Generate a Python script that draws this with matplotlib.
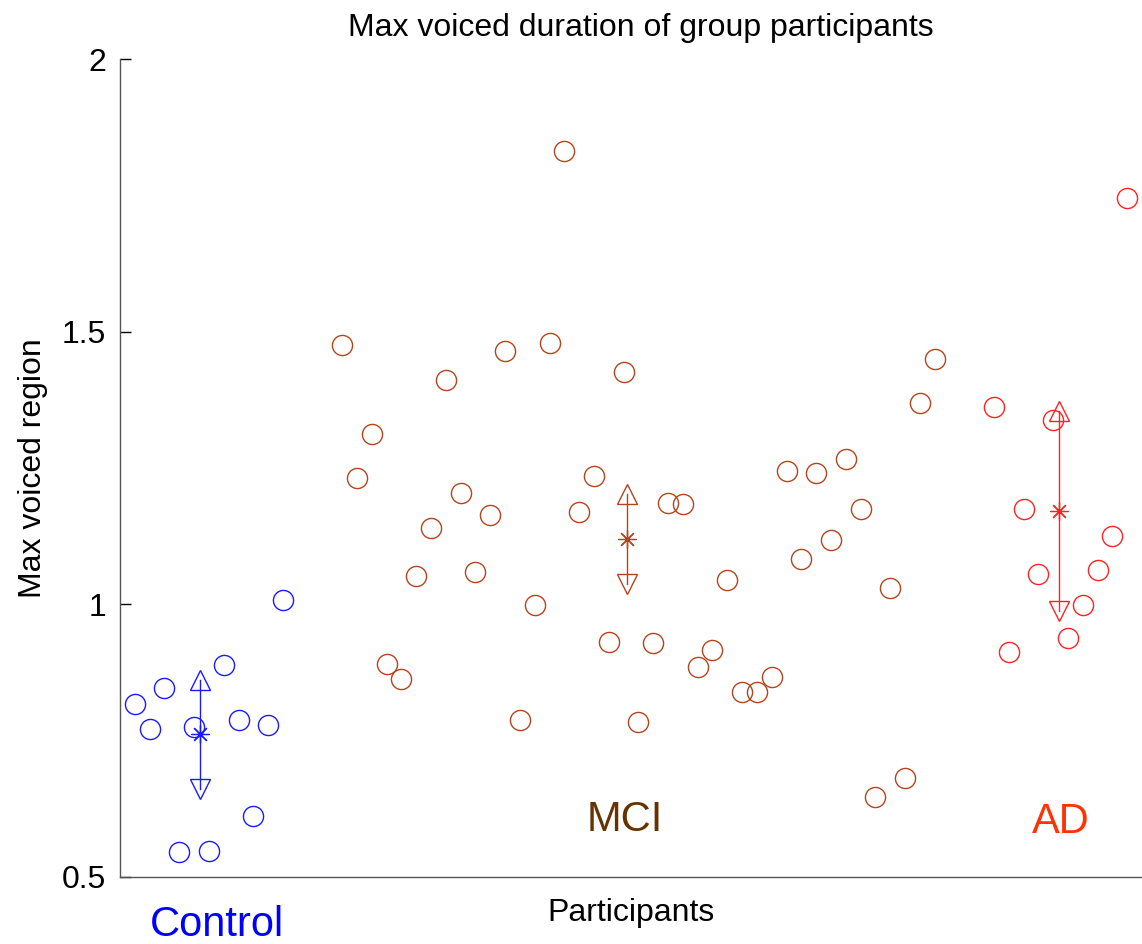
import numpy as np
import matplotlib
matplotlib.use('Agg')
import matplotlib.pyplot as plt

plt.rcParams['font.family'] = ['Liberation Sans', 'DejaVu Sans']

# participant index -> max voiced region, per group
control_idx = list(range(1, 12))
control_vals = [0.817, 0.772, 0.847, 0.546, 0.775, 0.548, 0.889, 0.788, 0.612, 0.779, 1.008]

mci_idx = list(range(15, 56))
mci_vals = [1.477, 1.232, 1.313, 0.890, 0.863, 1.052, 1.140, 1.412, 1.204, 1.059,
            1.165, 1.466, 0.788, 0.999, 1.480, 1.832, 1.170, 1.235, 0.931, 1.427,
            0.784, 0.930, 1.187, 1.184, 0.886, 0.917, 1.044, 0.839, 0.839, 0.867,
            1.245, 1.083, 1.242, 1.118, 1.267, 1.176, 0.647, 1.030, 0.682, 1.370,
            1.451]

ad_idx = list(range(59, 69))
ad_vals = [1.363, 0.913, 1.176, 1.056, 1.338, 0.938, 0.999, 1.063, 1.125, 1.745]

group_names = ['Control', 'MCI', 'AD']
ci_half = [0.100, 0.083, 0.184]      # 95% interval half-widths
bar_x = [5.4, 34.25, 63.42]
label_x = [6.55, 34.1, 63.5]
label_y = [0.412, 0.605, 0.601]

point_colors = ['#1a1aff', '#b5441c', '#ff2222']
text_colors = ['#0000ff', '#663300', '#ff3300']

fig = plt.figure(figsize=(11.42, 9.44), dpi=100)
ax = fig.add_axes([0.1051, 0.0710, 0.8949, 0.8660])

groups = [(control_idx, control_vals), (mci_idx, mci_vals), (ad_idx, ad_vals)]
for i, (xs, ys) in enumerate(groups):
    c = point_colors[i]
    ax.plot(xs, ys, 'o', ms=14.5, mfc='none', mec=c, mew=1.0, clip_on=False)
    m = np.mean(ys)
    e = ci_half[i]
    ax.plot([bar_x[i], bar_x[i]], [m - e, m + e], '-', color=c, lw=1.0)
    ax.plot(bar_x[i], m + e, '^', ms=15, mfc='none', mec=c, mew=1.0)
    ax.plot(bar_x[i], m - e, 'v', ms=15, mfc='none', mec=c, mew=1.0)
    ax.plot(bar_x[i], m, marker=(8, 2, 0), ms=13, color=c, mew=0.9)
    ax.text(label_x[i], label_y[i], group_names[i], color=text_colors[i],
            fontsize=30, ha='center', va='center', clip_on=False)

ax.set_xlim(0, 69)
ax.set_ylim(0.5, 2)
ax.set_yticks([0.5, 1, 1.5, 2])
ax.set_yticklabels(['0.5', '1', '1.5', '2'])
ax.set_xticks([])
ax.tick_params(axis='y', direction='in', length=8, width=1, labelsize=23, pad=10)

for side in ['top', 'right']:
    ax.spines[side].set_visible(False)
for side in ['left', 'bottom']:
    ax.spines[side].set_color('#555555')
    ax.spines[side].set_linewidth(1.0)

ax.set_title('Max voiced duration of group participants', fontsize=23, x=0.51, pad=17)
ax.set_xlabel('Participants', fontsize=23, labelpad=15)
ax.set_ylabel('Max voiced region', fontsize=23, labelpad=10)

fig.savefig('out.png', dpi=100)
